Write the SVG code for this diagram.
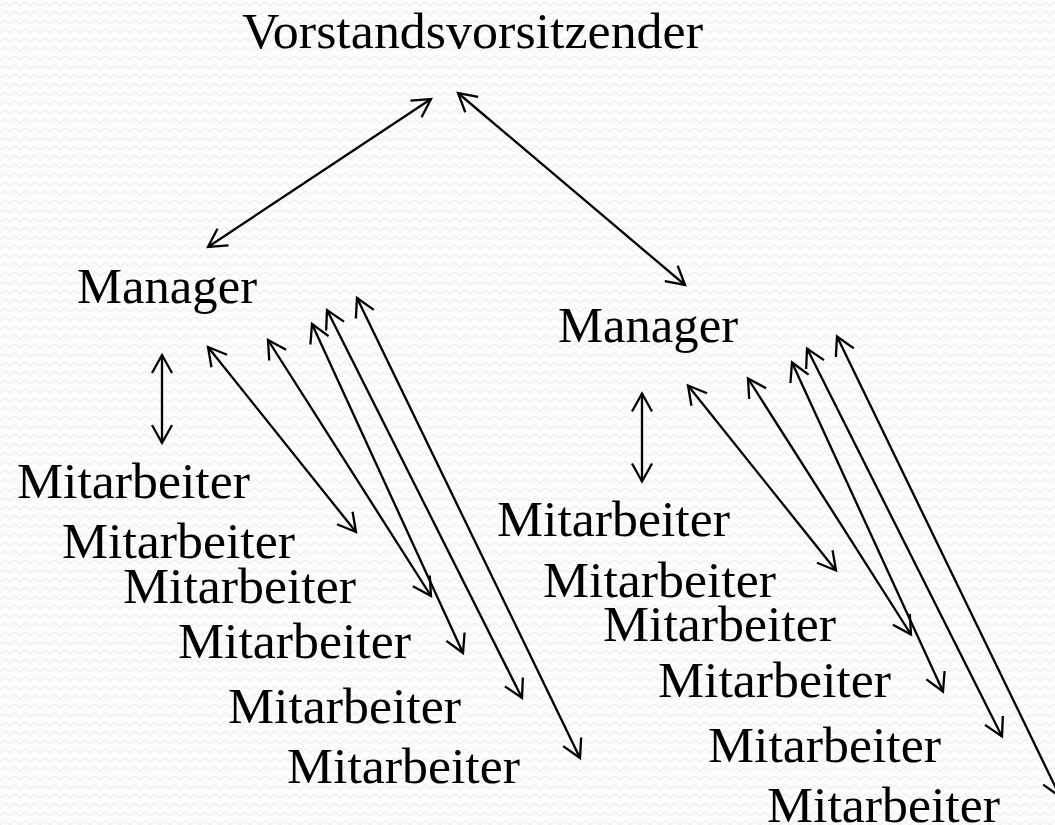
<svg xmlns="http://www.w3.org/2000/svg" width="1055" height="825" viewBox="0 0 1055 825">
<style>
text { font-family: "Liberation Serif", "Times New Roman", serif; font-size: 50px; fill: #000; }
.c line { stroke: #000; stroke-width: 2.3; marker-start: url(#ah); marker-end: url(#ah); }
</style>
<defs>
<pattern id="bg" width="10" height="9" patternUnits="userSpaceOnUse">
<rect width="10" height="9" fill="#fcfcfc"/>
<polyline points="0,6 5,2 10,6" fill="none" stroke="#f0f0f0" stroke-width="1.2"/>
</pattern>
<marker id="ah" markerUnits="userSpaceOnUse" markerWidth="24" markerHeight="24" viewBox="-20 -12 24 24" refX="0" refY="0" orient="auto-start-reverse" overflow="visible">
<path d="M -18 -10 L 0 0 L -18 10" fill="none" stroke="#000" stroke-width="2.3" stroke-linejoin="miter"/>
</marker>
</defs>
<rect width="1055" height="825" fill="url(#bg)"/>

<g id="ceo"><text x="242" y="48" textLength="461" lengthAdjust="spacingAndGlyphs">Vorstandsvorsitzender</text></g>
<g id="manager-left"><text x="77" y="303" textLength="180" lengthAdjust="spacingAndGlyphs">Manager</text></g>
<g id="manager-right"><text x="558" y="342" textLength="180" lengthAdjust="spacingAndGlyphs">Manager</text></g>

<g id="ma-l1"><text x="17" y="498" textLength="233" lengthAdjust="spacingAndGlyphs">Mitarbeiter</text></g>
<g id="ma-l2"><text x="62" y="558" textLength="233" lengthAdjust="spacingAndGlyphs">Mitarbeiter</text></g>
<g id="ma-l3"><text x="123" y="603" textLength="233" lengthAdjust="spacingAndGlyphs">Mitarbeiter</text></g>
<g id="ma-l4"><text x="178" y="658" textLength="233" lengthAdjust="spacingAndGlyphs">Mitarbeiter</text></g>
<g id="ma-l5"><text x="228" y="723" textLength="233" lengthAdjust="spacingAndGlyphs">Mitarbeiter</text></g>
<g id="ma-l6"><text x="287" y="783" textLength="233" lengthAdjust="spacingAndGlyphs">Mitarbeiter</text></g>

<g id="ma-r1"><text x="497" y="536" textLength="233" lengthAdjust="spacingAndGlyphs">Mitarbeiter</text></g>
<g id="ma-r2"><text x="543" y="597" textLength="233" lengthAdjust="spacingAndGlyphs">Mitarbeiter</text></g>
<g id="ma-r3"><text x="603" y="641" textLength="233" lengthAdjust="spacingAndGlyphs">Mitarbeiter</text></g>
<g id="ma-r4"><text x="658" y="697" textLength="233" lengthAdjust="spacingAndGlyphs">Mitarbeiter</text></g>
<g id="ma-r5"><text x="708" y="762" textLength="233" lengthAdjust="spacingAndGlyphs">Mitarbeiter</text></g>
<g id="ma-r6"><text x="767" y="822" textLength="233" lengthAdjust="spacingAndGlyphs">Mitarbeiter</text></g>

<g id="connectors" class="c">
<line x1="208" y1="247" x2="431" y2="99"/>
<line x1="458" y1="93" x2="685" y2="285"/>

<line x1="162" y1="355" x2="162" y2="443"/>
<line x1="208" y1="347" x2="356" y2="532"/>
<line x1="268" y1="340" x2="431" y2="596"/>
<line x1="312" y1="324" x2="463" y2="653"/>
<line x1="327" y1="310" x2="522" y2="698"/>
<line x1="357" y1="298" x2="580" y2="758"/>

<line x1="642" y1="393.5" x2="642" y2="481.5"/>
<line x1="688" y1="385.5" x2="836" y2="570.5"/>
<line x1="748" y1="378.5" x2="911" y2="634.5"/>
<line x1="792" y1="362.5" x2="943" y2="691.5"/>
<line x1="807" y1="348.5" x2="1002" y2="736.5"/>
<line x1="837" y1="336.5" x2="1060" y2="796.5"/>
</g>
</svg>
